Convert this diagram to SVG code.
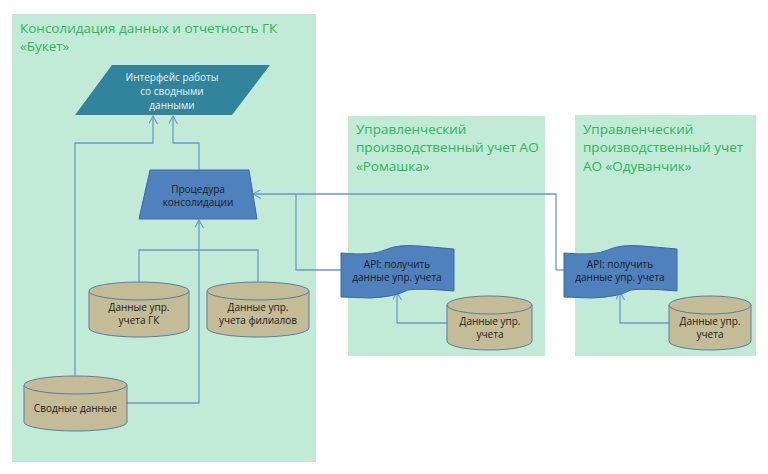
<svg xmlns="http://www.w3.org/2000/svg" width="768" height="474" viewBox="0 0 768 474">
<style>
.bg{fill:#c1ebd6;}
.title{font-family:"Open Sans","Liberation Sans",sans-serif;font-size:13.5px;fill:#2fb55a;}
.lbl{font-family:"Open Sans","Liberation Sans",sans-serif;font-size:10px;fill:#1a1a1a;text-anchor:middle;}
.lblw{font-family:"Open Sans","Liberation Sans",sans-serif;font-size:10px;fill:#e8f4f8;text-anchor:middle;}
.cyl{fill:#c4bc96;stroke:#5b7ba6;stroke-width:1;}
.conn{fill:none;stroke:#6f98cc;stroke-width:1.3;}
</style>
<defs>
<marker id="arr" viewBox="0 0 10 10" refX="9" refY="5" markerWidth="9" markerHeight="9" markerUnits="userSpaceOnUse" orient="auto">
<path d="M0,0 L9,5 L0,10" fill="none" stroke="#6f98cc" stroke-width="1.3"/>
</marker>
</defs>
<rect width="768" height="474" fill="#ffffff"/>
<g id="group-buket">
<rect class="bg" x="12" y="14" width="304" height="448"/>
<text class="title" x="20" y="33">Консолидация данных и отчетность ГК</text>
<text class="title" x="20" y="51">«Букет»</text>
</g>
<g id="group-romashka">
<rect class="bg" x="348" y="116" width="197" height="240"/>
<text class="title" x="356" y="134">Управленческий</text>
<text class="title" x="356" y="152">производственный учет АО</text>
<text class="title" x="356" y="171">«Ромашка»</text>
</g>
<g id="group-oduvanchik">
<rect class="bg" x="575" y="115" width="181" height="241"/>
<text class="title" x="583" y="134">Управленческий</text>
<text class="title" x="583" y="152">производственный учет</text>
<text class="title" x="583" y="171">АО «Одуванчик»</text>
</g>
<g id="connectors">
<path class="conn" d="M75,376 L75,143 L153,143 L153,116" marker-end="url(#arr)"/>
<path class="conn" d="M199,170 L199,143 L173,143 L173,116" marker-end="url(#arr)"/>
<path class="conn" d="M127,403 L199,403 L199,220" marker-end="url(#arr)"/>
<path class="conn" d="M139,282 L139,250 L258,250 L258,282"/>
<path class="conn" d="M556,270 L556,194 L253,194" marker-end="url(#arr)"/>
<path class="conn" d="M296,194 L296,270 L341,270"/>
<path class="conn" d="M556,270 L564,270"/>
<path class="conn" d="M447,323 L397,323 L397,292" marker-end="url(#arr)"/>
<path class="conn" d="M669,323 L620,323 L620,292" marker-end="url(#arr)"/>
</g>
<g id="interface">
<polygon points="112,65 270,65 232,115 75,115" fill="#31849b"/>
<text class="lblw" x="172" y="81">Интерфейс работы</text>
<text class="lblw" x="172" y="95">со сводными</text>
<text class="lblw" x="172" y="109">данными</text>
</g>
<g id="procedure">
<polygon points="150,170 249,170 257,219 139,219" fill="#4f81bd" stroke="#3d6aa0" stroke-width="1"/>
<text class="lbl" x="198" y="193">Процедура</text>
<text class="lbl" x="198" y="206">консолидации</text>
</g>
<g id="data-gk">
<path class="cyl" d="M89,291 L89,328 A50,9 0 0 0 189,328 L189,291"/>
<ellipse class="cyl" cx="139" cy="291" rx="50" ry="9"/>
<text class="lbl" x="139" y="311">Данные упр.</text>
<text class="lbl" x="139" y="324">учета ГК</text>
</g>
<g id="data-filials">
<path class="cyl" d="M207,291 L207,328 A51,9 0 0 0 309,328 L309,291"/>
<ellipse class="cyl" cx="258" cy="291" rx="51" ry="9"/>
<text class="lbl" x="258" y="311">Данные упр.</text>
<text class="lbl" x="258" y="324">учета филиалов</text>
</g>
<g id="summary-data">
<path class="cyl" d="M24,385 L24,422 A51.5,9 0 0 0 127,422 L127,385"/>
<ellipse class="cyl" cx="75.5" cy="385" rx="51.5" ry="9"/>
<text class="lbl" x="75.5" y="412">Сводные данные</text>
</g>
<g id="api-romashka">
<path d="M341,253 Q372,256 385,250 Q397,244 420,246 L454,249 L454,291 Q420,288 408,290 Q395,297 370,298 L341,297 Z" fill="#4f81bd" stroke="#3d6aa0" stroke-width="1"/>
<text class="lbl" x="397" y="268">API: получить</text>
<text class="lbl" x="397" y="281">данные упр. учета</text>
</g>
<g id="data-romashka">
<path class="cyl" d="M447,305 L447,341 A42.5,9 0 0 0 532,341 L532,305"/>
<ellipse class="cyl" cx="489.5" cy="305" rx="42.5" ry="9"/>
<text class="lbl" x="490" y="325">Данные упр.</text>
<text class="lbl" x="490" y="338">учета</text>
</g>
<g id="api-oduvanchik">
<path d="M564,253 Q595,256 608,250 Q620,244 643,246 L677,249 L677,291 Q643,288 631,290 Q618,297 593,298 L564,297 Z" fill="#4f81bd" stroke="#3d6aa0" stroke-width="1"/>
<text class="lbl" x="620" y="268">API: получить</text>
<text class="lbl" x="620" y="281">данные упр. учета</text>
</g>
<g id="data-oduvanchik">
<path class="cyl" d="M669,305 L669,341 A41,9 0 0 0 751,341 L751,305"/>
<ellipse class="cyl" cx="710" cy="305" rx="41" ry="9"/>
<text class="lbl" x="710" y="325">Данные упр.</text>
<text class="lbl" x="710" y="338">учета</text>
</g>
</svg>
